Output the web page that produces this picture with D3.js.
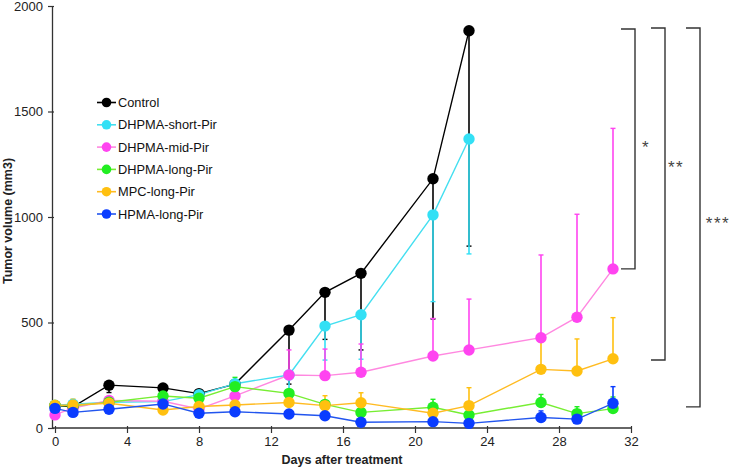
<!DOCTYPE html>
<html>
<head>
<meta charset="utf-8">
<script src="https://cdn.jsdelivr.net/npm/d3@7"></script>
<style>
  html, body { margin: 0; padding: 0; background: #fff; }
  text { font-family: "Liberation Sans", Arial, sans-serif; }
</style>
</head>
<body>
<svg id="chart" width="729" height="468"></svg>
<script>
// ---- data ----
const daysShort = [0, 1, 3, 6, 8, 10, 13, 15, 17, 21, 23];
const daysLong = [0, 1, 3, 6, 8, 10, 13, 15, 17, 21, 23, 27, 29, 31];

const controlVals = [106, 100, 203, 190, 163, 208, 464, 643, 733, 1181, 1883];
const controlErr  = [5, 5, 35, 10, 5, 5, 256, 223, 363, 664, 1021];

const shortVals = [108, 113, 122, 125, 158, 210, 251, 483, 537, 1010, 1370];
const shortErr  = [5, 5, 5, 5, 5, 5, 70, 161, 211, 411, 545];

const midVals = [62, 95, 130, 127, 90, 152, 251, 248, 264, 341, 370, 428, 525, 754];
const midErr  = [5, 5, 10, 5, 5, 10, 119, 126, 134, 178, 241, 392, 488, 666];

const dLongVals = [106, 105, 122, 152, 141, 196, 164, 112, 74, 98, 62, 121, 68, 92];
const dLongErr  = [5, 5, 8, 8, 8, 44, 10, 10, 8, 38, 10, 38, 33, 55];

const mpcVals = [108, 109, 117, 85, 102, 109, 121, 106, 120, 70, 106, 278, 270, 328];
const mpcErr  = [5, 28, 8, 5, 5, 5, 10, 47, 47, 10, 85, 131, 152, 195];

const hpmaVals = [93, 74, 89, 114, 70, 77, 66, 58, 27, 30, 22, 50, 42, 117];
const hpmaErr  = [5, 5, 5, 5, 5, 5, 5, 5, 5, 5, 5, 31, 5, 79];

const seriesNames = ["Control", "DHPMA-short-Pir", "DHPMA-mid-Pir", "DHPMA-long-Pir", "MPC-long-Pir", "HPMA-long-Pir"];
const xTicks = [0, 4, 8, 12, 16, 20, 24, 28, 32];
const yTicks = [0, 500, 1000, 1500, 2000];

// significance brackets: [top value, bottom value, label]
const brackets = [
  { top: 1883, bottom: 754, label: "*" },
  { top: 1883, bottom: 322, label: "**" },
  { top: 1883, bottom: 100, label: "***" }
];

// ---- styling ----
const styles = [
  { line: "#000000", fill: "#000000", dir: -1 },
  { line: "#44dff0", fill: "#33e0f5", dir: -1 },
  { line: "#ff88e0", fill: "#ff44f0", dir: 1 },
  { line: "#77ee33", fill: "#22ee22", dir: 1 },
  { line: "#ffbb22", fill: "#ffc010", dir: 1 },
  { line: "#2255ee", fill: "#0a3cff", dir: 1 }
];

const series = [
  { days: daysShort, vals: controlVals, err: controlErr },
  { days: daysShort, vals: shortVals, err: shortErr },
  { days: daysLong, vals: midVals, err: midErr },
  { days: daysLong, vals: dLongVals, err: dLongErr },
  { days: daysLong, vals: mpcVals, err: mpcErr },
  { days: daysLong, vals: hpmaVals, err: hpmaErr }
].map((s, i) => ({ ...s, name: seriesNames[i], ...styles[i] }));

const svg = d3.select("#chart");
const x = d3.scaleLinear().domain([0, 32]).range([55, 631]);
const y = d3.scaleLinear().domain([0, 2000]).range([428, 6]);
const axisColor = "#333";

// axes
const xAxisG = svg.append("g").attr("transform", "translate(0,428)")
  .call(d3.axisBottom(x).tickValues(xTicks).tickFormat(d3.format("d")).tickSize(5).tickSizeOuter(0).tickPadding(4));
xAxisG.select(".domain").remove();
svg.append("line").attr("x1", 52).attr("x2", 631).attr("y1", 428).attr("y2", 428)
  .attr("stroke", axisColor).attr("stroke-width", 1.3);

const yAxisG = svg.append("g").attr("transform", "translate(52,0)")
  .call(d3.axisLeft(y).tickValues(yTicks).tickFormat(d3.format("d")).tickSize(4).tickSizeOuter(0).tickPadding(5));
yAxisG.select(".domain").attr("stroke", axisColor).attr("stroke-width", 1.3);

[xAxisG, yAxisG].forEach(g => {
  g.selectAll(".tick line").attr("stroke", axisColor).attr("stroke-width", 1.2);
  g.selectAll(".tick text").attr("fill", "#222").style("font-size", "13px")
    .style("font-family", "'Liberation Sans', Arial, sans-serif");
});
// x ticks cross the axis slightly
xAxisG.selectAll(".tick line").attr("y1", -2);
yAxisG.selectAll(".tick line").attr("x1", 2);

// axis titles
svg.append("text").attr("x", 342).attr("y", 464).attr("text-anchor", "middle")
  .style("font-size", "12.5px").style("font-weight", "bold").attr("fill", "#222")
  .text("Days after treatment");
svg.append("text").attr("transform", "translate(12,221) rotate(-90)").attr("text-anchor", "middle")
  .style("font-size", "12.5px").style("font-weight", "bold").attr("fill", "#222")
  .text("Tumor volume (mm3)");

// error bars
series.forEach(s => {
  const g = svg.append("g");
  s.days.forEach((d, i) => {
    const v = s.vals[i], e = s.err[i];
    const end = v + s.dir * e;
    g.append("line").attr("x1", x(d)).attr("x2", x(d)).attr("y1", y(v)).attr("y2", y(end))
      .attr("stroke", s.fill).attr("stroke-width", 1.6);
    g.append("line").attr("x1", x(d) - 2.5).attr("x2", x(d) + 2.5).attr("y1", y(end)).attr("y2", y(end))
      .attr("stroke", s.fill).attr("stroke-width", 1.4);
  });
});

// lines
const lineGen = d3.line().x(p => x(p[0])).y(p => y(p[1]));
series.forEach(s => {
  svg.append("path").datum(s.days.map((d, i) => [d, s.vals[i]]))
    .attr("d", lineGen).attr("fill", "none").attr("stroke", s.line).attr("stroke-width", 1.4);
});

// markers
series.forEach(s => {
  svg.append("g").selectAll("circle").data(s.days.map((d, i) => [d, s.vals[i]]))
    .join("circle").attr("cx", p => x(p[0])).attr("cy", p => y(p[1])).attr("r", 5.7)
    .attr("fill", s.fill);
});

// legend
const legend = svg.append("g");
series.forEach((s, i) => {
  const ly = 102.5 + i * 22.3;
  legend.append("line").attr("x1", 97).attr("x2", 116).attr("y1", ly).attr("y2", ly)
    .attr("stroke", s.line).attr("stroke-width", 1.6);
  legend.append("circle").attr("cx", 106.5).attr("cy", ly).attr("r", 4.8).attr("fill", s.fill);
  legend.append("text").attr("x", 118).attr("y", ly + 4.5).style("font-size", "12.8px")
    .attr("fill", "#111").text(s.name);
});

// significance brackets
const bx = [635, 665, 700];
brackets.forEach((b, i) => {
  const xr = bx[i];
  const yt = i === 0 ? 29 : 28;
  const yb = y(b.bottom);
  svg.append("path")
    .attr("d", `M${xr - 14},${yt}H${xr}V${yb}H${xr - 14}`)
    .attr("fill", "none").attr("stroke", "#333").attr("stroke-width", 1.4);
});
const starPos = [[646, 153], [676, 173], [718, 229]];
brackets.forEach((b, i) => {
  svg.append("text").attr("x", starPos[i][0]).attr("y", starPos[i][1]).attr("text-anchor", "middle")
    .style("font-size", "17px").style("letter-spacing", "1.5px").attr("fill", "#444").text(b.label);
});
</script>
</body>
</html>
